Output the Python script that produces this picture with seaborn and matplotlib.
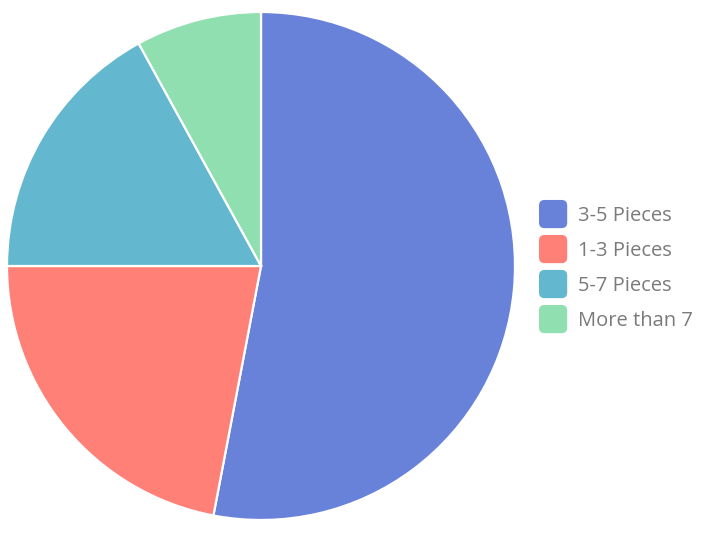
import matplotlib
matplotlib.use("Agg")
import matplotlib.pyplot as plt
import seaborn as sns
from matplotlib.patches import FancyBboxPatch, Patch
from matplotlib.legend_handler import HandlerPatch

# Data
labels = ["3-5 Pieces", "1-3 Pieces", "5-7 Pieces", "More than 7"]
shares = [53, 22, 17, 8]
colors = ["#6882d9", "#ff8077", "#63b7cf", "#90dfb0"]

sns.set_theme(style="white")
plt.rcParams['font.family'] = ['Open Sans', 'DejaVu Sans']

fig = plt.figure(figsize=(7.21, 5.39), dpi=100)
ax = fig.add_axes([7 / 721, 19 / 539, 508 / 721, 508 / 539])

ax.pie(
    shares,
    colors=colors,
    startangle=90,
    counterclock=False,
    radius=1,
    wedgeprops=dict(edgecolor="white", linewidth=1.6),
)
ax.set_xlim(-1, 1)
ax.set_ylim(-1, 1)
ax.set_aspect("equal")
ax.axis("off")


# rounded squares for the legend keys
class RoundBox(HandlerPatch):
    def create_artists(self, legend, orig_handle, xdescent, ydescent,
                       width, height, fontsize, trans):
        y0 = -ydescent + height / 2 - width / 2
        p = FancyBboxPatch((-xdescent, y0), width, width,
                           boxstyle="round,pad=0,rounding_size=4",
                           facecolor=orig_handle.get_facecolor(),
                           edgecolor="none", transform=trans)
        return [p]


handles = [Patch(facecolor=c, label=l) for c, l in zip(colors, labels)]
fig.legend(
    handles=handles,
    loc="center left",
    bbox_to_anchor=(539 / 721, 1 - 268 / 539),
    frameon=False,
    fontsize=14.5,
    labelcolor="#7a7a7a",
    handlelength=1.4,
    handleheight=1.0,
    handletextpad=0.55,
    labelspacing=0.7,
    borderpad=0,
    borderaxespad=0,
    handler_map={Patch: RoundBox()},
)

plt.savefig("out.png", dpi=100)
